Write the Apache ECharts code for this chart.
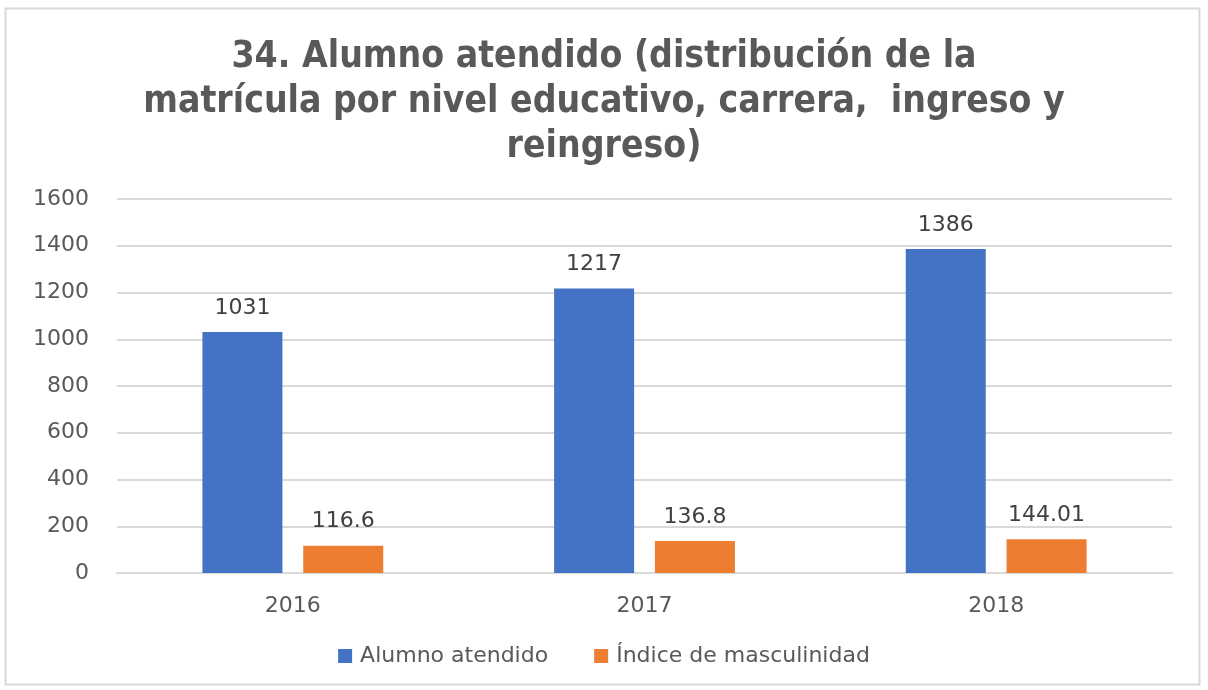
<!DOCTYPE html>
<html>
<head>
<meta charset="utf-8">
<script src="https://cdn.jsdelivr.net/npm/echarts@6/dist/echarts.min.js"></script>
<style>
  html, body { margin: 0; padding: 0; background: #fff; }
  #chart { width: 1208px; height: 690px; }
</style>
</head>
<body>
<div id="chart"></div>
<script>
const years = ['2016', '2017', '2018'];
const alumnoAtendido = [1031, 1217, 1386];
const indiceMasculinidad = [116.6, 136.8, 144.01];
const yTicks = [0, 200, 400, 600, 800, 1000, 1200, 1400, 1600];

const textGray = '#595959';
const chart = echarts.init(document.getElementById('chart'));

const labelStyle = {
  show: true,
  position: 'top',
  distance: 13,
  color: '#404040',
  fontSize: 22,
  fontFamily: 'DejaVu Sans'
};

chart.setOption({
  animation: false,
  graphic: [{
    type: 'rect',
    shape: { x: 5.5, y: 8.5, width: 1194, height: 676 },
    style: { fill: 'none', stroke: '#d9d9d9', lineWidth: 2 }
  }],
  title: {
    text: '34. Alumno atendido (distribución de la\nmatrícula por nivel educativo, carrera,  ingreso y\nreingreso)',
    left: 'center',
    top: 30,
    textStyle: {
      color: textGray,
      fontSize: 37,
      fontWeight: 'bold',
      fontFamily: 'DejaVu Sans Condensed, Liberation Sans Narrow, sans-serif',
      lineHeight: 45,
      align: 'center'
    }
  },
  legend: {
    bottom: 18,
    left: 'center',
    itemWidth: 14,
    itemHeight: 14,
    itemGap: 46,
    icon: 'rect',
    textStyle: { color: textGray, fontSize: 22, fontFamily: 'DejaVu Sans', padding: [0, 0, 0, 3] },
    data: ['Alumno atendido', 'Índice de masculinidad']
  },
  grid: { left: 117, right: 36, top: 199, bottom: 117, containLabel: false },
  xAxis: {
    type: 'category',
    data: years,
    axisTick: { show: false },
    axisLine: { lineStyle: { color: '#d9d9d9', width: 2 } },
    axisLabel: { color: textGray, fontSize: 22, margin: 22, fontFamily: 'DejaVu Sans' }
  },
  yAxis: {
    type: 'value',
    min: yTicks[0],
    max: yTicks[yTicks.length - 1],
    interval: 200,
    axisLine: { show: false },
    axisTick: { show: false },
    splitLine: { lineStyle: { color: '#d9d9d9', width: 2 } },
    axisLabel: {
      color: textGray,
      fontSize: 22,
      margin: 28,
      fontFamily: 'DejaVu Sans',
      formatter: v => String(v)
    }
  },
  series: [
    {
      name: 'Alumno atendido',
      type: 'bar',
      data: alumnoAtendido,
      barWidth: 80,
      barGap: '26%',
      itemStyle: { color: '#4472C4' },
      label: labelStyle
    },
    {
      name: 'Índice de masculinidad',
      type: 'bar',
      data: indiceMasculinidad,
      barWidth: 80,
      itemStyle: { color: '#ED7D31' },
      label: labelStyle
    }
  ]
});
</script>
</body>
</html>
